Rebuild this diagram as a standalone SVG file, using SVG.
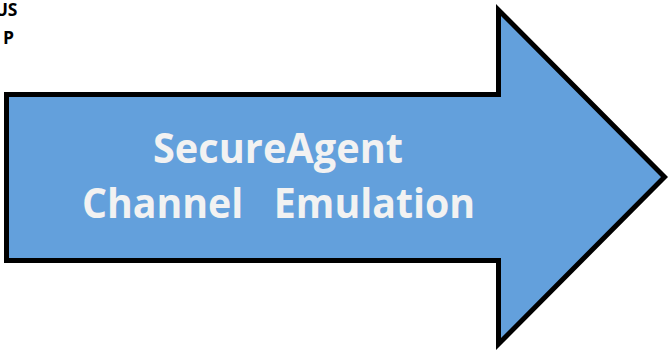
<svg xmlns="http://www.w3.org/2000/svg" width="668" height="351" viewBox="0 0 668 351">
  <style>
    .arrow { fill: #63A0DC; stroke: #000000; stroke-width: 5; stroke-linejoin: miter; stroke-miterlimit: 10; }
    .lbl { font-family: "Open Sans", "Liberation Sans", sans-serif; font-weight: bold; fill: #F2F2F2; font-size: 42px; white-space: pre; }
    .corner { font-family: "Open Sans", "Liberation Sans", sans-serif; font-weight: bold; fill: #000000; font-size: 17.5px; }
  </style>
  <rect width="668" height="351" fill="#FFFFFF"/>
  <g id="corner-text">
    <text class="corner" x="17.5" y="16" text-anchor="end">US</text>
    <text class="corner" x="14" y="44" text-anchor="end">P</text>
  </g>
  <g id="arrow-node">
    <polygon class="arrow" points="6.5,94.5 498.5,94.5 498.5,10 664.5,177 498.5,344 498.5,260.5 6.5,260.5"/>
    <text class="lbl" x="278" y="163" text-anchor="middle" textLength="250" lengthAdjust="spacingAndGlyphs">SecureAgent</text>
    <text class="lbl" x="278.5" y="218" text-anchor="middle" textLength="393" lengthAdjust="spacingAndGlyphs" xml:space="preserve">Channel   Emulation</text>
  </g>
  <g id="connectors"></g>
</svg>
